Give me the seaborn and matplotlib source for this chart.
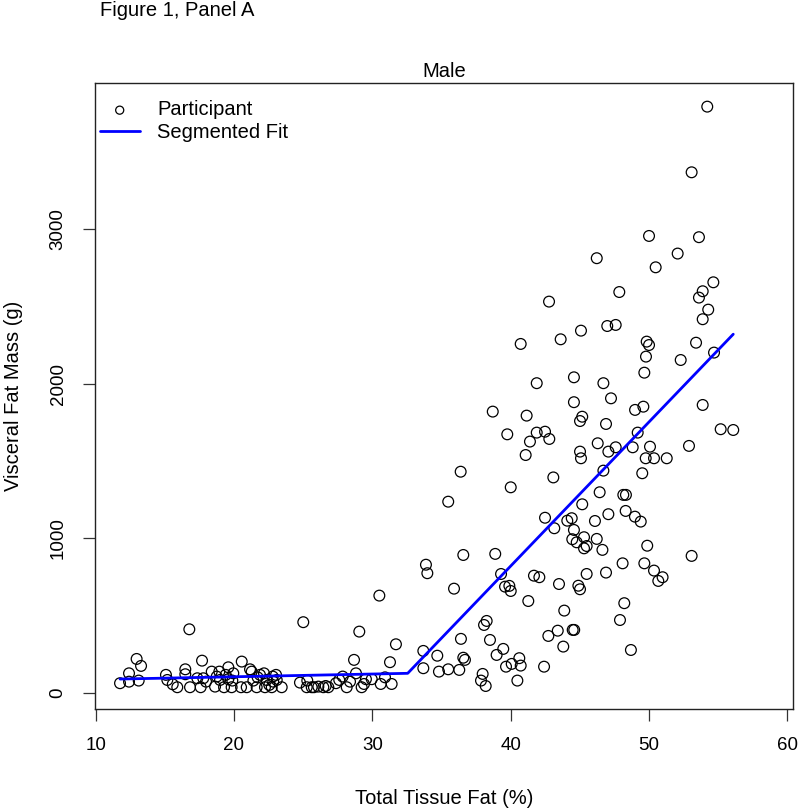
import numpy as np
import pandas as pd
import seaborn as sb
import matplotlib.pyplot as plt

# values
fat_pct = [
    11.76, 12.41, 12.41, 12.96, 13.28, 13.11, 15.08, 15.18, 15.57, 15.90,
    16.48, 16.48, 16.77, 16.82, 17.35, 17.59, 17.69, 17.78, 17.98, 18.39,
    18.63, 18.75, 18.94, 18.99, 19.28, 19.40, 19.59, 19.59, 19.83, 19.95,
    19.88, 20.51, 20.56, 20.92, 21.16, 21.28, 21.40, 21.64, 21.71, 21.88,
    22.17, 22.24, 22.36, 22.55, 22.73, 22.80, 22.84, 23.04, 23.09, 23.45,
    24.77, 25.01, 25.26, 25.30, 25.62, 25.78, 26.10, 26.46, 26.63, 26.82,
    27.37, 27.61, 27.86, 28.15, 28.39, 28.68, 28.82, 29.06, 29.23, 29.40,
    29.54, 29.96, 30.51, 30.61, 30.92, 31.28, 31.40, 31.71, 33.69, 33.69,
    33.88, 33.98,
    35.91, 39.31, 39.60, 39.91, 40.01, 41.69, 42.08, 43.50, 44.90, 45.02,
    45.50, 46.90, 48.10, 49.67, 50.37, 50.99, 50.68, 41.28, 43.88,
    48.22, 47.91, 38.08, 38.27, 38.51, 36.41, 34.70, 34.82, 35.49, 36.29,
    36.58, 36.70, 37.98, 37.86, 38.20, 38.99, 39.47, 39.67, 40.08, 40.63,
    40.73, 40.49, 42.42, 42.73, 43.41, 43.81, 44.49, 44.60, 48.70,
    54.22, 53.09, 50.01, 53.62, 46.23, 52.08, 50.49, 54.66, 53.89, 53.62,
    54.29, 53.89, 42.78, 47.86, 45.09, 46.99, 47.60,
    40.73, 43.62, 49.84, 50.01, 53.41, 54.71, 52.30, 49.79, 49.67, 44.58,
    41.89, 46.71, 47.26, 44.58, 38.71, 41.16, 49.00, 49.60, 53.89, 45.18,
    45.02, 46.90, 39.76, 41.89, 42.49, 41.40, 42.80, 49.19, 55.19, 56.10,
    46.30, 47.60, 47.07, 45.02, 45.09, 48.83, 50.08, 49.77, 50.37, 51.29,
    52.90, 41.09, 36.39, 43.09, 46.71, 49.52, 40.01, 35.49, 46.44, 48.15,
    48.34, 45.18, 48.32, 47.07, 48.99, 49.41, 42.49, 44.42, 44.10, 46.10,
    43.16, 44.58, 44.46, 44.78, 45.31, 46.23, 45.50, 45.31, 46.64, 49.88,
    36.58, 38.89, 53.09,
]
visceral_g = [
    63, 127, 73, 220, 175, 80, 117, 84, 56, 37,
    153, 121, 412, 37, 95, 37, 209, 95, 73, 138,
    41, 106, 138, 84, 37, 117, 166, 89, 37, 127,
    80, 37, 203, 37, 153, 138, 80, 37, 101, 117,
    127, 37, 84, 52, 37, 106, 73, 117, 84, 37,
    67, 458, 37, 80, 37, 37, 41, 37, 45, 37,
    63, 84, 106, 37, 73, 214, 127, 397, 37, 58,
    89, 89, 630, 58, 101, 199, 58, 315, 272, 160,
    830, 775,
    675, 770, 688, 693, 660, 759, 749, 705, 694, 671,
    770, 779, 839, 839, 792, 749, 725, 595, 533,
    581, 472, 440, 466, 343, 350, 241, 138, 153, 149,
    228, 214, 123, 80, 45, 246, 285, 170, 188, 225,
    177, 80, 170, 369, 403, 300, 408, 408, 278,
    3795, 3370, 2958, 2950, 2814, 2844, 2755, 2658, 2600, 2559,
    2481, 2419, 2533, 2595, 2345, 2375, 2382,
    2259, 2289, 2274, 2252, 2267, 2203, 2155, 2177, 2073, 2043,
    2005, 2005, 1907, 1882, 1821, 1795, 1832, 1853, 1864, 1788,
    1760, 1741, 1674, 1685, 1691, 1627, 1644, 1685, 1707, 1702,
    1616, 1590, 1562, 1562, 1519, 1590, 1594, 1519, 1519, 1519,
    1599, 1540, 1432, 1395, 1439, 1422, 1331, 1238, 1299, 1282,
    1282, 1221, 1178, 1157, 1141, 1109, 1134, 1131, 1115, 1113,
    1066, 1055, 995, 975, 1008, 997, 951, 936, 926, 953,
    893, 900, 887,
]

# segmented regression, breakpoint near 32.6 %
fit_x = [11.76, 32.56, 56.1]
fit_y = [90, 127, 2322]

x_ticks = [10, 20, 30, 40, 50, 60]
y_ticks = [0, 1000, 2000, 3000]

sb.set_style("ticks")
plt.rcParams["font.family"] = ["Liberation Sans", "DejaVu Sans"]
fs_tick = 13.5
fs = 14.5

df = pd.DataFrame({"fat": fat_pct, "vat": visceral_g})
fit = pd.DataFrame({"fat": fit_x, "vat": fit_y})

fig = plt.figure(figsize=(8, 8.09), dpi=100)
ax = fig.add_axes([0.11875, 0.1236, 0.8725, 0.7738])

sb.scatterplot(data=df, x="fat", y="vat", ax=ax, s=60, color="black",
               edgecolor="black", linewidth=0.9, label="Participant")
ax.collections[0].set_facecolor("none")
sb.lineplot(data=fit, x="fat", y="vat", ax=ax, color="blue", linewidth=2,
            sort=False, estimator=None, label="Segmented Fit")

ax.set_xlim(9.95, 60.42)
ax.set_ylim(-104, 3948)
ax.set_xticks(x_ticks)
ax.set_yticks(y_ticks)
ax.set_yticklabels([str(t) for t in y_ticks], rotation=90, va="center")
ax.tick_params(axis="both", direction="out", length=8.5, width=0.9,
               pad=12, labelsize=fs_tick, color="#333333", labelcolor="black")
for sp in ax.spines.values():
    sp.set_visible(True)
    sp.set_linewidth(1.0)
    sp.set_color("#222222")

ax.set_xlabel("Total Tissue Fat (%)", fontsize=fs, color="black")
ax.set_ylabel("Visceral Fat Mass (g)", fontsize=fs, color="black")
ax.xaxis.set_label_coords(0.5, -0.128)
ax.yaxis.set_label_coords(-0.103, 0.5)
ax.set_title("Male", fontsize=fs, pad=4, color="black")

leg = ax.get_legend()
if leg is not None:
    leg.remove()
lg = ax.legend(loc="upper left", bbox_to_anchor=(-0.005, 0.985), frameon=False,
               fontsize=fs, markerscale=0.75, handlelength=2.0,
               handletextpad=0.85, labelspacing=0.2, borderaxespad=0)
for t in lg.get_texts():
    t.set_color("black")

fig.text(100 / 800, 1 - 1 / 809, "Figure 1, Panel A", fontsize=fs,
         ha="left", va="top", color="black")

fig.savefig("out.png", dpi=100)
